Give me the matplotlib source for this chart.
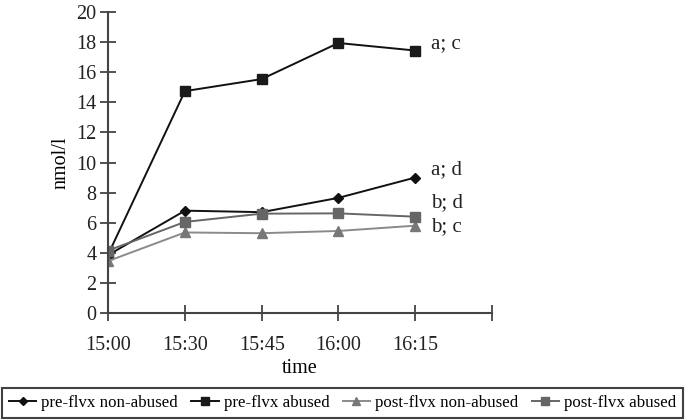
import matplotlib

matplotlib.use("Agg")
import matplotlib.pyplot as plt

plt.rcParams["font.family"] = ["Liberation Serif", "DejaVu Serif"]

times = ["15:00", "15:30", "15:45", "16:00", "16:15"]
pre_nonabused = [3.85, 6.8, 6.7, 7.65, 9.0]
pre_abused = [3.9, 14.75, 15.55, 17.95, 17.45]
post_nonabused = [3.45, 5.35, 5.3, 5.45, 5.8]
post_abused = [4.15, 6.05, 6.6, 6.62, 6.4]
end_labels = ["a; d", "a; c", "b; c", "b; d"]

fig = plt.figure(figsize=(6.85, 4.2), dpi=100)
ax = fig.add_axes([0.158, 0.255, 0.56, 0.716])

x = list(range(len(times)))
series = [
    ("pre-flvx non-abused", pre_nonabused, "D", "#111111", "#111111", 5.5),
    ("pre-flvx abused", pre_abused, "s", "#111111", "#1a1a1a", 7),
    ("post-flvx non-abused", post_nonabused, "^", "#8a8a8a", "#777777", 7),
    ("post-flvx abused", post_abused, "s", "#666666", "#666666", 7.5),
]
for label, vals, mk, lc, mc, ms in series:
    ax.plot(x, vals, color=lc, marker=mk, ms=ms, mfc=mc, mec=mc, lw=1.4,
            label=label)

# significance letters next to last point
offsets = [0.5, 0.45, -0.1, 0.9]
for (label, vals, *_), txt, dy in zip(series, end_labels, offsets):
    ax.text(4.21, vals[-1] + dy, txt, fontsize=15, va="center", ha="left",
            color="#222222")

ax.set_xlim(0, 5)
ax.set_ylim(0, 20)
ax.set_xticks(range(6))
ax.set_xticklabels(times + [""])
ax.set_yticks(range(0, 21, 2))
ax.tick_params(direction="inout", length=11, width=1.3, colors="#444444",
               labelsize=14.5, labelcolor="#222222")
ax.tick_params(axis="x", pad=11)
ax.tick_params(axis="y", pad=3)
for s in ["top", "right"]:
    ax.spines[s].set_visible(False)
for s in ["left", "bottom"]:
    ax.spines[s].set_color("#444444")
    ax.spines[s].set_linewidth(1.5)
ax.set_ylabel("nmol/l", fontsize=14.5, labelpad=4)
ax.set_xlabel("time", fontsize=14.5, labelpad=3)

leg = fig.legend(loc="lower center", bbox_to_anchor=(0.5, 0.0), ncol=4,
                 fontsize=12.2, frameon=True, fancybox=False, handlelength=1.6,
                 handletextpad=0.3, columnspacing=0.8, borderpad=0.42,
                 markerscale=0.75, borderaxespad=0.12)
leg.get_frame().set_edgecolor("#111111")
leg.get_frame().set_linewidth(1.5)

fig.savefig("out.png", dpi=100)
